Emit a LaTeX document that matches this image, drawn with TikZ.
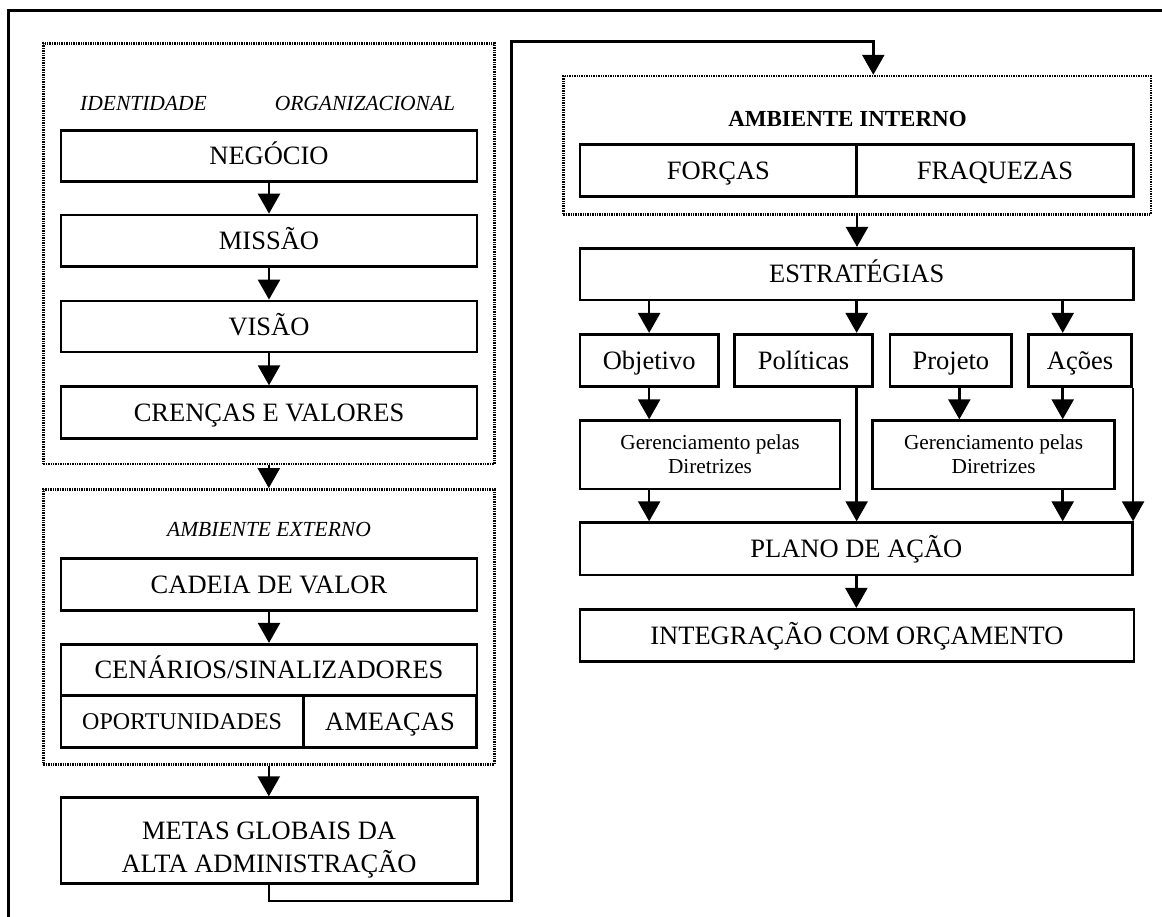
\documentclass[tikz,border=0pt]{standalone}
\usepackage{fontspec}
\setmainfont{Liberation Serif}
\usetikzlibrary{arrows.meta}

\begin{document}
\begin{tikzpicture}[x=1pt,y=-1pt,
  sz/.style 2 args={minimum width=#1pt, minimum height=#2pt},
  box/.style={draw, line width=2.8pt, inner sep=0pt, align=center,
    font=\fontsize{26.5pt}{31pt}\selectfont, text height=17.4pt, text depth=0pt},
  smallbox/.style={box, font=\fontsize{21.3pt}{24.3pt}\selectfont,
    text height=38.25pt, text depth=0pt},
  group/.style={draw, line width=2.4pt, dash pattern=on 1.4pt off 1pt, inner sep=0pt},
  ital/.style={inner sep=0pt, font=\fontsize{21.5pt}{25pt}\selectfont\itshape},
  boldlbl/.style={inner sep=0pt, font=\fontsize{23pt}{27pt}\selectfont\bfseries},
  arr/.style={line width=2.5pt, -{Triangle[width=22pt,length=20pt]}},
  frame/.style={line width=2.8pt}
]
\useasboundingbox (0,0) rectangle (1162,916);
\clip (0,0) rectangle (1162,916);

% outer frame
\draw[frame] (8.3,930) -- (8.3,10.7) -- (1180,10.7);

% ---------- left column: organisational identity ----------
\node[group, sz={451}{420.7}] (ident) at (268.8,253.65) {};
\node[ital, anchor=base west] (identlbl) at (80,110) {IDENTIDADE\hspace*{68pt}ORGANIZACIONAL};
\node[box, sz={416}{51}]   (neg) at (269,156.2) {NEGÓCIO};
\node[box, sz={416}{51.7}] (mis) at (269,240.9) {MISSÃO};
\node[box, sz={416}{51}]   (vis) at (269,326.5) {VISÃO};
\node[box, sz={416}{51.6}] (cre) at (269,412.5) {CRENÇAS E VALORES};

% ---------- left column: external environment ----------
\node[group, sz={451}{275}] (ext) at (268.8,626.8) {};
\node[ital, anchor=base] (extlbl) at (269,536) {AMBIENTE EXTERNO};
\node[box, sz={416}{51.6}] (cad) at (269,584.5) {CADEIA DE VALOR};
\node[box, sz={416}{51}]   (cen) at (269,669.8) {CENÁRIOS/SINALIZADORES};
\node[box, sz={242.3}{52.4}, font=\fontsize{24pt}{28pt}\selectfont, text height=15.7pt]
  (opo) at (182.15,721.5) {OPORTUNIDADES};
\node[box, sz={173.4}{52.4}] (ame) at (390,721.5) {AMEAÇAS};

\node[box, sz={416.3}{86}, font=\fontsize{26.5pt}{33.7pt}\selectfont, text height=64pt]
  (metas) at (269.1,840.7) {METAS GLOBAIS DA\\ALTA ADMINISTRAÇÃO};

% ---------- right column ----------
\node[group, sz={587.4}{138.3}] (ai) at (857,145.15) {};
\node[boldlbl, anchor=base] (ailbl) at (847.5,126) {AMBIENTE INTERNO};
\node[box, sz={276.7}{52.4}] (forc) at (718.35,170.5) {FORÇAS};
\node[box, sz={276.6}{52.4}] (fraq) at (995,170.5) {FRAQUEZAS};

\node[box, sz={553.3}{51.7}] (estr) at (856.65,274.15) {ESTRATÉGIAS};

\node[box, sz={138.3}{52.4}] (obj)  at (649.15,360.5) {Objetivo};
\node[box, sz={138.4}{52.4}] (pol)  at (803.5,360.5)  {Políticas};
\node[box, sz={121.7}{52.4}] (proj) at (950.85,360.5) {Projeto};
\node[box, sz={103.4}{52.4}] (aco)  at (1080,360.5)   {Ações};

\node[smallbox, sz={260}{68.3}]   (ger1) at (710,454.85)   {Gerenciamento pelas\\Diretrizes};
\node[smallbox, sz={241.8}{68.3}] (ger2) at (993.6,454.85) {Gerenciamento pelas\\Diretrizes};

\node[box, sz={552.7}{52.3}] (plano) at (856.35,548.85) {PLANO DE AÇÃO};
\node[box, sz={554}{52.2}]   (integ) at (857,635.4)     {INTEGRAÇÃO COM ORÇAMENTO};

% ---------- connectors: left column ----------
\draw[arr] (neg.south) -- (mis.north);
\draw[arr] (mis.south) -- (vis.north);
\draw[arr] (vis.south) -- (cre.north);
\draw[arr] (ident.south) -- (ext.north);
\draw[arr] (cad.south) -- (cen.north);
\draw[arr] (ext.south) -- (ext.south |- metas.north);

% loop from the global goals up to the internal environment
\coordinate (loopL) at (511.7,901);
\coordinate (loopT) at (873.3,41.7);
\draw[arr] (metas.south) |- (loopL) |- (loopT) -- (loopT |- ai.north);

% ---------- connectors: right column ----------
\coordinate (acoX) at ([xshift=-17.3pt]aco.north);
\coordinate (projX) at ([xshift=8.5pt]proj.south);
\draw[arr] (ai.south) -- (ai.south |- estr.north);
\draw[arr] (obj.north |- estr.south) -- (obj.north);
\draw[arr] (estr.south) -- (estr.south |- pol.north);
\draw[arr] (acoX |- estr.south) -- (acoX);
\draw[arr] (obj.south) -- (obj.south |- ger1.north);
\draw[arr] (projX) -- (projX |- ger2.north);
\draw[arr] (acoX |- aco.south) -- (acoX |- ger2.north);
\draw[arr] (obj.south |- ger1.south) -- (obj.south |- plano.north);
\draw[arr] (estr.south |- pol.south) -- (estr.south |- plano.north);
\draw[arr] (acoX |- ger2.south) -- (acoX |- plano.north);
\draw[arr] (aco.south east) -- (aco.south east |- plano.north);
\draw[arr] (plano.south) -- (plano.south |- integ.north);
\end{tikzpicture}
\end{document}
